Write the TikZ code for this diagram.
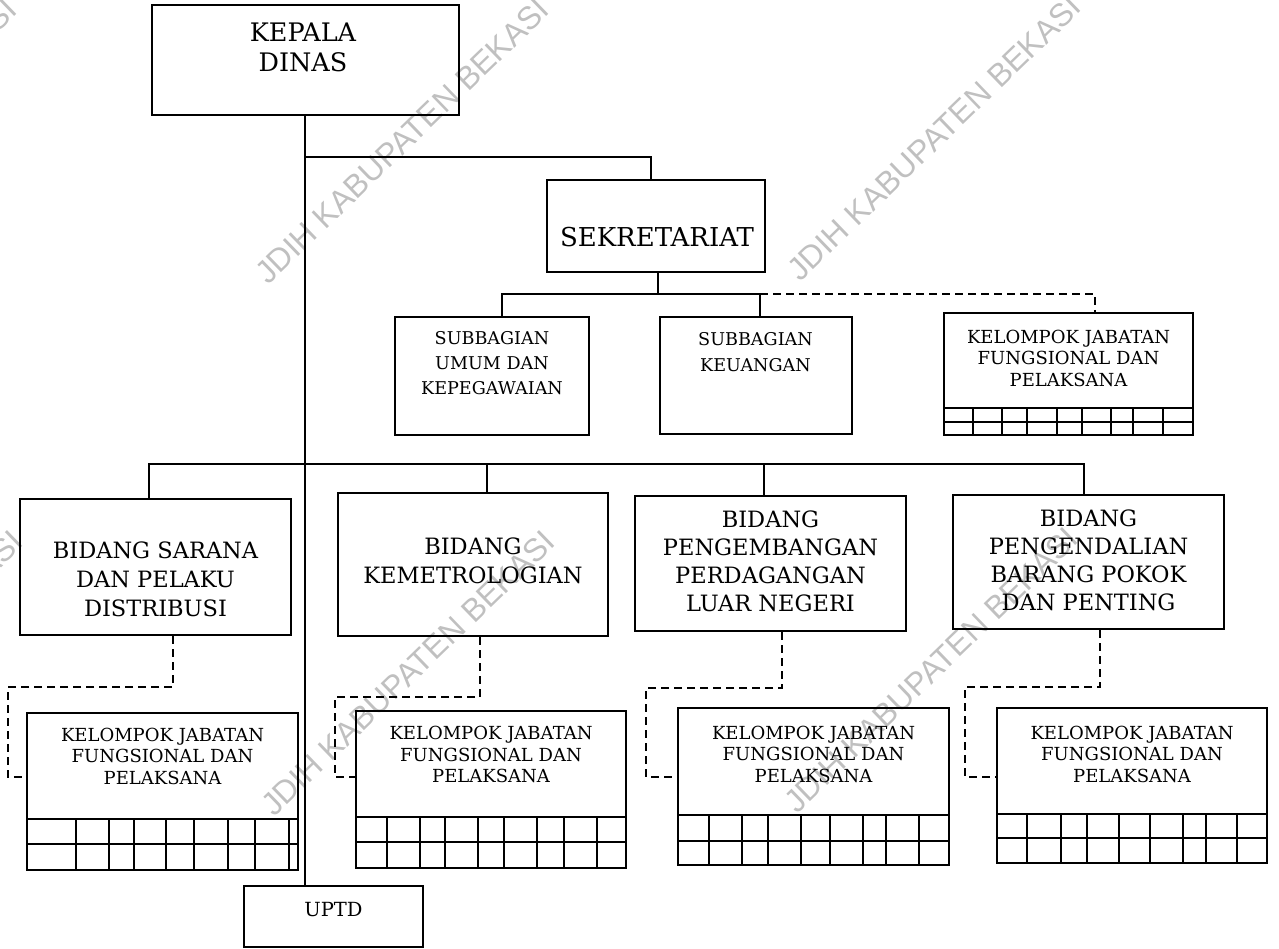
\documentclass[tikz,border=0pt]{standalone}
\usepackage{fontspec}
\setmainfont{DejaVu Serif}
\newfontfamily\wmfont{Liberation Sans}
\definecolor{wmgray}{RGB}{192,192,192}
\newcommand\kgrid[4]{%
  \draw[gridl] (#1.west |- 0,#2) -- (#1.east |- 0,#2) (#1.west |- 0,#3) -- (#1.east |- 0,#3);
  \foreach \gx in {#4} {\draw[gridl] (\gx,#2) -- (\gx,#2 |- #1.south);}}
\begin{document}
\begin{tikzpicture}[x=1pt,y=-1pt,
  box/.style={draw, line width=2pt, rectangle, inner sep=0pt},
  conn/.style={line width=1.8pt},
  dconn/.style={line width=1.6pt, dash pattern=on 8pt off 5pt},
  gridl/.style={line width=1.6pt},
  big/.style={align=center, font=\fontsize{25.5}{30}\selectfont},
  mid/.style={align=center, font=\fontsize{22.5}{29}\selectfont},
  small/.style={align=center, font=\fontsize{18}{21.5}\selectfont},
  smallw/.style={align=center, font=\fontsize{17.6}{25}\selectfont},
  wm/.style={anchor=base west, rotate=44, text=wmgray, font=\wmfont\fontsize{32}{32}\selectfont, inner sep=0pt}]
\useasboundingbox (0,0) rectangle (1279,949);
% watermarks
\foreach \wx/\wy in {-264/286, 268/286, 800/283, -258/818, 274/818, 797/815}
  \node[wm] at (\wx,\wy) {JDIH KABUPATEN BEKASI};

% boxes
\node[box, minimum width=307pt, minimum height=110pt] (kd) at (305,60) {};
\node[big] (kdt) at (303,47) {KEPALA\\DINAS};
\node[box, minimum width=218pt, minimum height=92pt] (sek) at (656,226) {};
\node[big, font=\fontsize{26}{30}\selectfont] (sekt) at (657,237) {SEKRETARIAT};

\node[box, minimum width=194pt, minimum height=118pt] (su) at (492,376) {};
\node[smallw] (sut) at (492,363.5) {SUBBAGIAN\\UMUM DAN\\KEPEGAWAIAN};
\node[box, minimum width=192pt, minimum height=117pt] (kb) at (756,375.5) {};
\node[smallw, font=\fontsize{17.6}{26}\selectfont] (kbt) at (755.5,352) {SUBBAGIAN\\KEUANGAN};
\node[box, minimum width=249pt, minimum height=122pt] (ktr) at (1068.5,374) {};
\node[small] (ktrt) at (1068.5,358) {KELOMPOK JABATAN\\FUNGSIONAL DAN\\PELAKSANA};
\kgrid{ktr}{408}{422}{973,1002,1027,1057,1082,1111,1133,1163}

\node[box, minimum width=271pt, minimum height=136pt] (b1) at (155.5,567) {};
\node[mid] (b1t) at (155.5,579) {BIDANG SARANA\\DAN PELAKU\\DISTRIBUSI};
\node[box, minimum width=270pt, minimum height=143pt] (b2) at (473,564.5) {};
\node[mid] (b2t) at (473,560.5) {BIDANG\\KEMETROLOGIAN};
\node[box, minimum width=271pt, minimum height=135pt] (b3) at (770.5,563.5) {};
\node[mid, font=\fontsize{22.5}{28}\selectfont] (b3t) at (770.5,561) {BIDANG\\PENGEMBANGAN\\PERDAGANGAN\\LUAR NEGERI};
\node[box, minimum width=271pt, minimum height=134pt] (b4) at (1088.5,562) {};
\node[mid, font=\fontsize{22.5}{28}\selectfont] (b4t) at (1088.5,560.5) {BIDANG\\PENGENDALIAN\\BARANG POKOK\\DAN PENTING};

\node[box, minimum width=271pt, minimum height=157pt] (k1) at (162.5,791.5) {};
\node[small] (k1t) at (162.5,756) {KELOMPOK JABATAN\\FUNGSIONAL DAN\\PELAKSANA};
\kgrid{k1}{819}{844}{76,109,134,166,194,228,255,289}
\node[box, minimum width=270pt, minimum height=157pt] (k2) at (491,789.5) {};
\node[small] (k2t) at (491,754.5) {KELOMPOK JABATAN\\FUNGSIONAL DAN\\PELAKSANA};
\kgrid{k2}{817}{842}{387,420,445,478,504,537,564,597}
\node[box, minimum width=271pt, minimum height=157pt] (k3) at (813.5,786.5) {};
\node[small] (k3t) at (813.5,754) {KELOMPOK JABATAN\\FUNGSIONAL DAN\\PELAKSANA};
\kgrid{k3}{815}{841}{709,742,768,801,830,863,886,919}
\node[box, minimum width=270pt, minimum height=155pt] (k4) at (1132,785.5) {};
\node[small] (k4t) at (1132,754) {KELOMPOK JABATAN\\FUNGSIONAL DAN\\PELAKSANA};
\kgrid{k4}{814}{838}{1027,1061,1087,1119,1150,1183,1206,1237}

\node[box, minimum width=179pt, minimum height=61pt] (uptd) at (333.5,916.5) {};
\node[small, font=\fontsize{19.5}{22}\selectfont] (uptdt) at (333.5,910) {UPTD};

% connectors
\draw[conn] (kd.south) -- (kd.south |- uptd.north);
\draw[conn] (kd.south |- 0,157) -| (sek.north -| 651,0);
\draw[conn] (sek.south -| 658,0) -- (658,294);
\draw[conn] (su.north -| 502,0) -- (502,294) -- (760,294) -- (kb.north -| 760,0);
\draw[dconn] (760,294) -| (ktr.north -| 1095,0);

\draw[conn] (b1.north -| 149,0) -- (149,464) -- (1084,464) -- (b4.north -| 1084,0);
\draw[conn] (487,464) -- (b2.north -| 487,0);
\draw[conn] (764,464) -- (b3.north -| 764,0);

\draw[dconn] (b1.south -| 173,0) |- (8,687) |- (k1.west |- 0,777);
\draw[dconn] (b2.south -| 480,0) |- (335,697) |- (k2.west |- 0,777);
\draw[dconn] (b3.south -| 782,0) |- (646,688) |- (k3.west |- 0,777);
\draw[dconn] (b4.south -| 1100,0) |- (965,687) |- (k4.west |- 0,777);
\end{tikzpicture}
\end{document}
